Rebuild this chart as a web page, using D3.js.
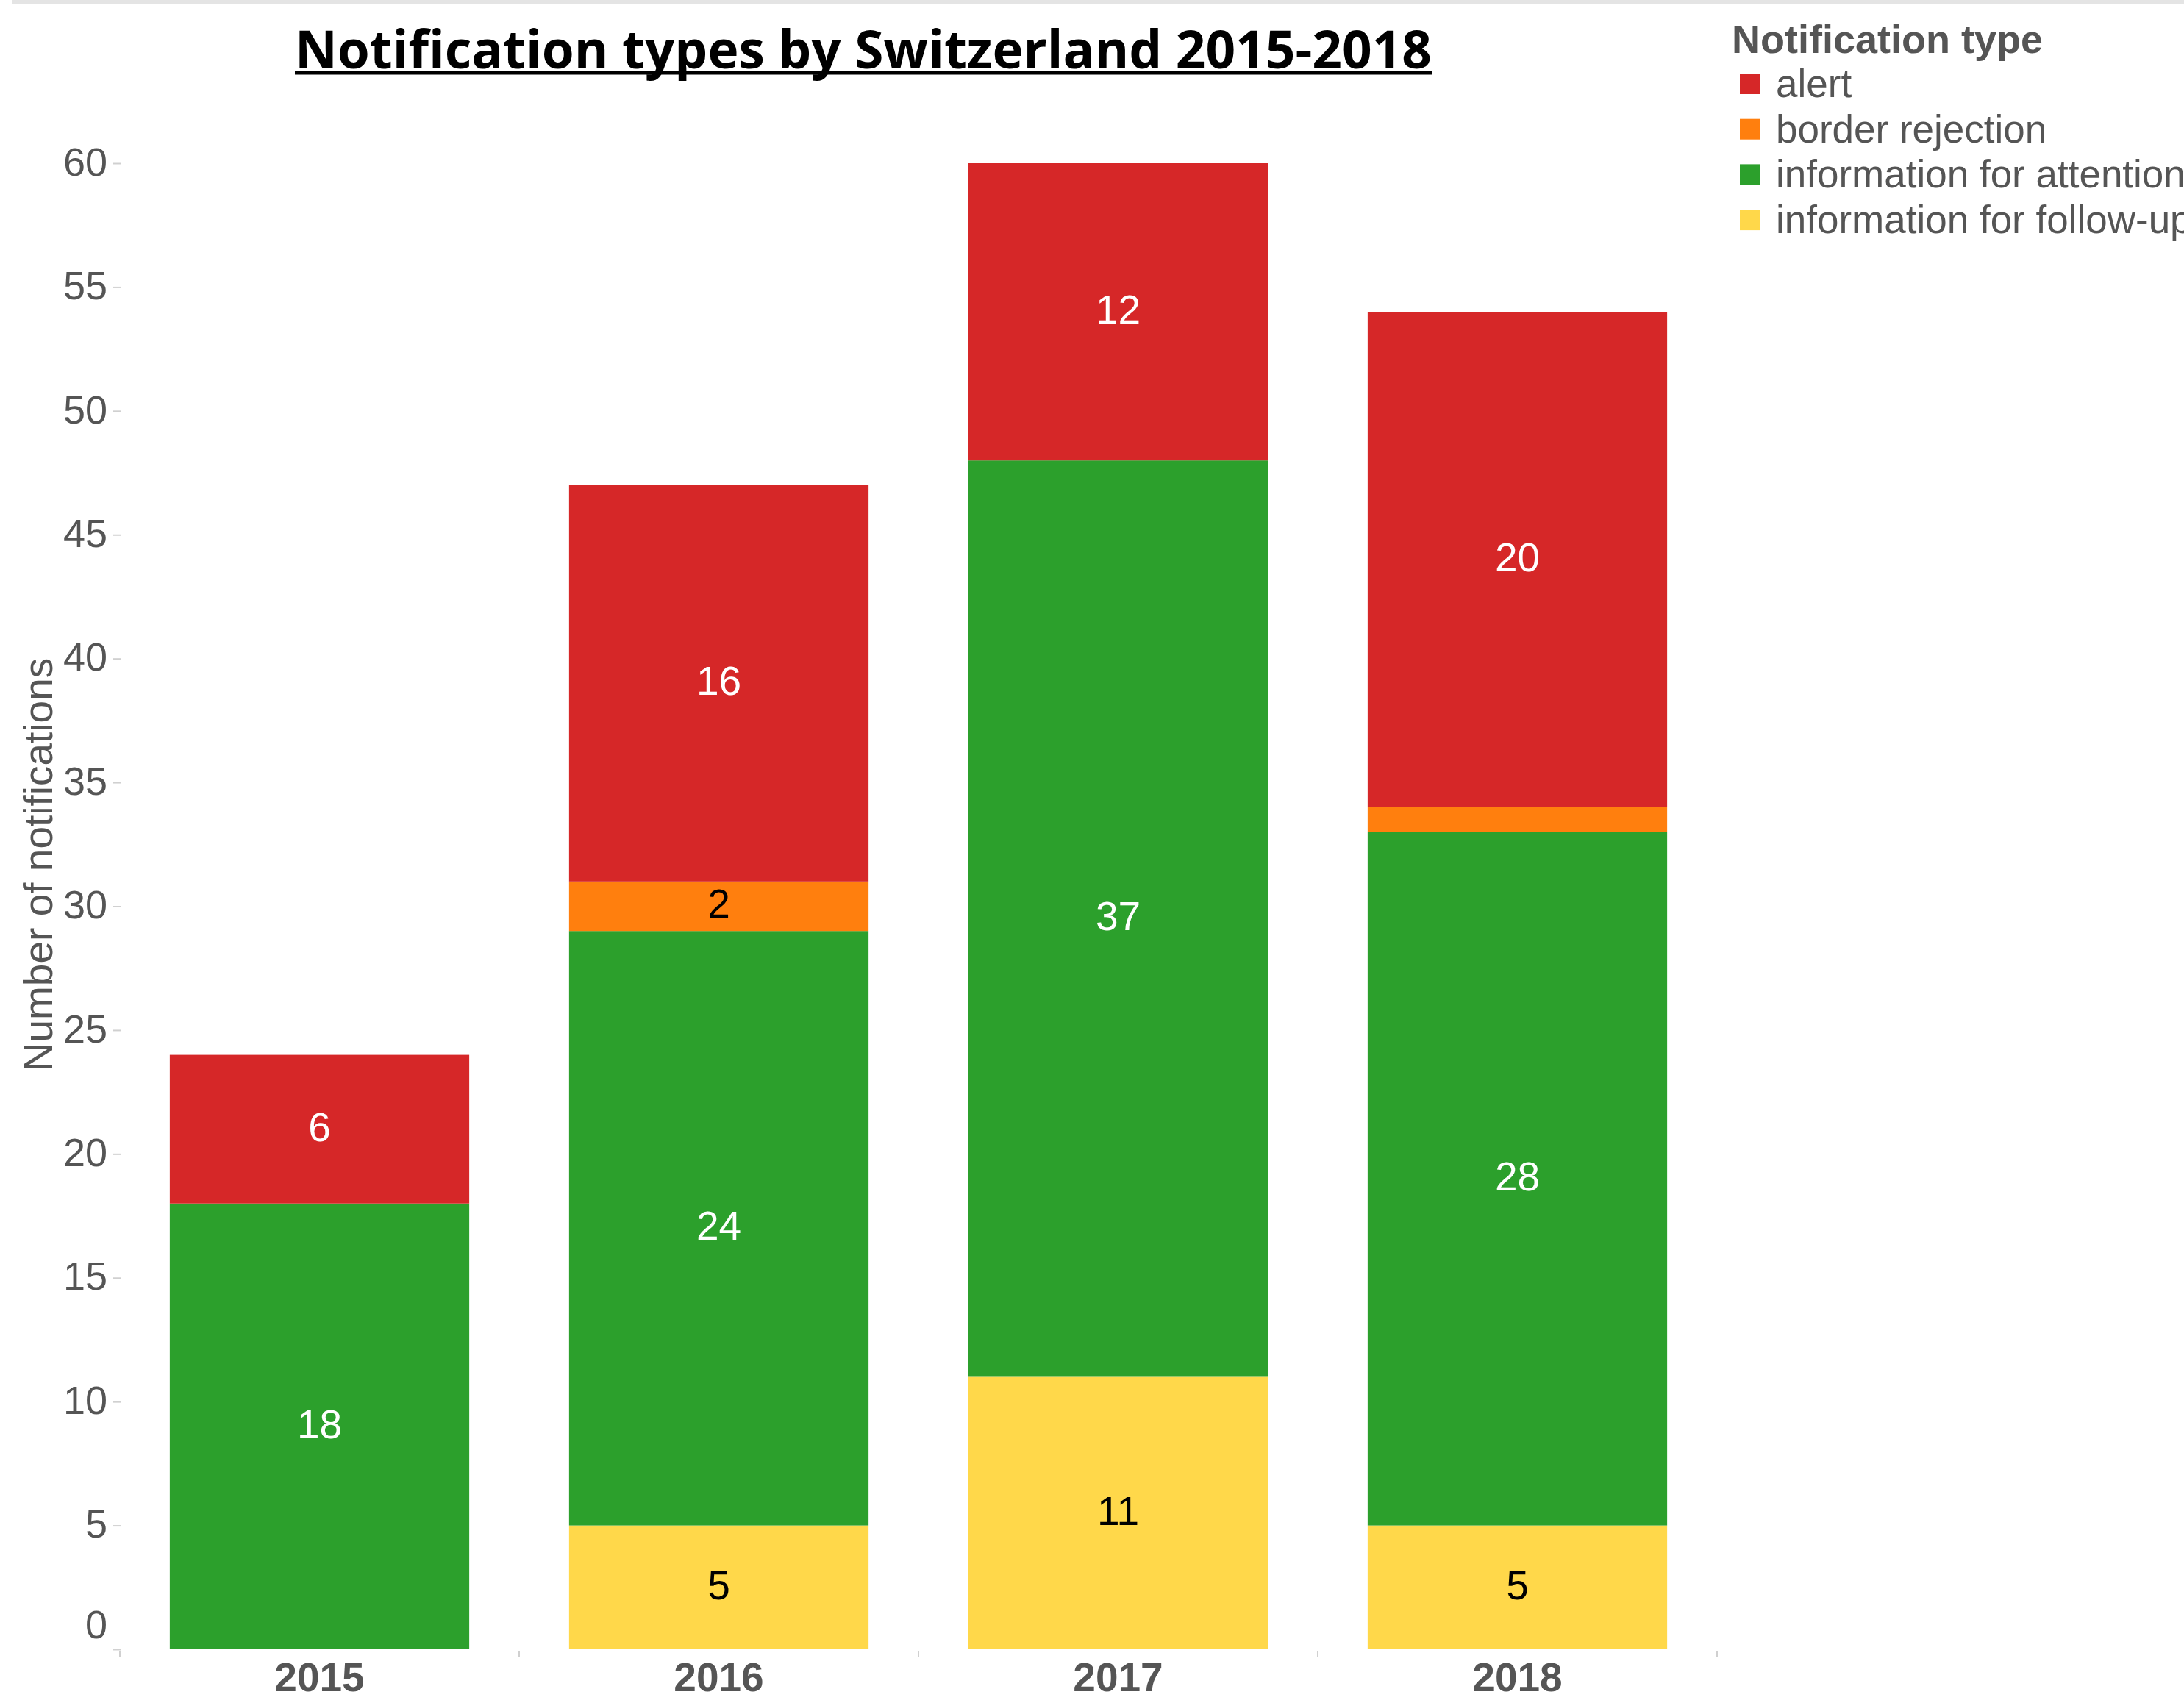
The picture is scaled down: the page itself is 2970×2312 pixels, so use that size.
<!DOCTYPE html>
<html>
<head>
<meta charset="utf-8">
<script src="https://cdn.jsdelivr.net/npm/d3@7"></script>
<style>
  body { margin: 0; background: #fff; }
  svg { display: block; }
</style>
</head>
<body>
<div id="chart"></div>
<script>
// values
let years = ['2015', '2016', '2017', '2018'];
let alert = [6, 16, 12, 20];
let borderRejection = [0, 2, 0, 1];
let infoAttention = [18, 24, 37, 28];
let infoFollowUp = [0, 5, 11, 5];
let legendTypes = ['alert', 'border rejection', 'information for attention', 'information for follow-up'];
let yTicks = [0, 5, 10, 15, 20, 25, 30, 35, 40, 45, 50, 55, 60];

let rows = years.map((y, i) => ({
    year: y,
    'alert': alert[i],
    'border rejection': borderRejection[i],
    'information for attention': infoAttention[i],
    'information for follow-up': infoFollowUp[i]
}));

let width = 2970;
let height = 2312;
let font = "'Liberation Sans', Arial, sans-serif";

let color = d3.scaleOrdinal()
    .domain(legendTypes)
    .range(['#d62728', '#ff7f0e', '#2ca02c', '#ffd84a']);

let labelColor = {
    'alert': '#ffffff',
    'border rejection': '#000000',
    'information for attention': '#ffffff',
    'information for follow-up': '#000000'
};

let x = d3.scaleBand()
    .domain(years)
    .range([163, 2335])
    .paddingInner(0.25)
    .paddingOuter(0.125);

let y = d3.scaleLinear()
    .domain([0, 60])
    .range([2243, 222]);

let stackKeys = ['information for follow-up', 'information for attention', 'border rejection', 'alert'];
let series = d3.stack().keys(stackKeys)(rows);

let svg = d3.select('#chart').append('svg')
    .attr('width', width)
    .attr('height', height);

// faint strip along the top edge
svg.append('rect')
    .attr('x', 16).attr('y', 0)
    .attr('width', width - 16).attr('height', 5)
    .attr('fill', '#e4e4e4');

// title
let title = svg.append('text')
    .attr('x', 1174)
    .attr('y', 93)
    .attr('text-anchor', 'middle')
    .attr('font-family', "'Open Sans', sans-serif")
    .attr('font-weight', 700)
    .attr('font-size', 72)
    .attr('fill', '#000')
    .text('Notification types by Switzerland 2015-2018');

let tw = title.node().getComputedTextLength();
if (Math.abs(tw - 1546) > 4) {
    title.attr('textLength', 1546).attr('lengthAdjust', 'spacingAndGlyphs');
}
svg.append('line')
    .attr('x1', 1174 - 773).attr('x2', 1174 + 773)
    .attr('y1', 99).attr('y2', 99)
    .attr('stroke', '#000')
    .attr('stroke-width', 5);

// y axis
let yAxis = svg.append('g')
    .attr('transform', 'translate(164,0)')
    .call(d3.axisLeft(y).tickValues(yTicks).tickSize(10).tickPadding(8));

yAxis.select('.domain').remove();
yAxis.selectAll('.tick line').attr('stroke', '#d0d0d0').attr('stroke-width', 2);
yAxis.selectAll('.tick text')
    .attr('font-family', font)
    .attr('font-size', 54)
    .attr('fill', '#555')
    .attr('dy', d => d === 0 ? '-0.28em' : '0.3em');

svg.append('text')
    .attr('transform', 'translate(71,1176) rotate(-90)')
    .attr('text-anchor', 'middle')
    .attr('font-family', font)
    .attr('font-size', 55)
    .attr('fill', '#555')
    .text('Number of notifications');

// bars
let layers = svg.append('g').selectAll('g')
    .data(series)
    .join('g')
    .attr('fill', d => color(d.key));

layers.selectAll('rect')
    .data(d => d)
    .join('rect')
    .attr('x', d => x(d.data.year))
    .attr('width', x.bandwidth())
    .attr('y', d => y(d[1]))
    .attr('height', d => y(d[0]) - y(d[1]));

// segment labels
series.forEach(s => {
    svg.append('g').selectAll('text')
        .data(s.filter(d => d[1] - d[0] >= 2))
        .join('text')
        .attr('x', d => x(d.data.year) + x.bandwidth() / 2)
        .attr('y', d => y((d[0] + d[1]) / 2))
        .attr('dy', '0.29em')
        .attr('text-anchor', 'middle')
        .attr('font-family', font)
        .attr('font-size', 55)
        .attr('fill', labelColor[s.key])
        .text(d => d[1] - d[0]);
});

// x axis
let xAxis = svg.append('g')
    .attr('transform', 'translate(0,2244)')
    .call(d3.axisBottom(x).tickSize(0).tickPadding(17));

xAxis.select('.domain').remove();
xAxis.selectAll('.tick text')
    .attr('font-family', font)
    .attr('font-size', 55)
    .attr('font-weight', 700)
    .attr('fill', '#555');

let gap = x.step() * x.paddingInner() / 2;
let bounds = years.map(d => x(d) - gap).concat([x(years[years.length - 1]) + x.bandwidth() + gap]);
svg.append('g').selectAll('line')
    .data(bounds)
    .join('line')
    .attr('x1', d => d).attr('x2', d => d)
    .attr('y1', 2246).attr('y2', 2254)
    .attr('stroke', '#d0d0d0')
    .attr('stroke-width', 2);

// legend
let legend = svg.append('g');

legend.append('text')
    .attr('x', 2355)
    .attr('y', 72)
    .attr('font-family', font)
    .attr('font-weight', 700)
    .attr('font-size', 54)
    .attr('fill', '#555')
    .text('Notification type');

let items = legend.selectAll('g.item')
    .data(legendTypes)
    .join('g')
    .attr('class', 'item')
    .attr('transform', (d, i) => 'translate(0,' + (132 + i * 61.7) + ')');

items.append('rect')
    .attr('x', 2366)
    .attr('y', -32)
    .attr('width', 28)
    .attr('height', 28)
    .attr('fill', d => color(d));

items.append('text')
    .attr('x', 2415)
    .attr('y', 0)
    .attr('font-family', font)
    .attr('font-size', 53)
    .attr('fill', '#555')
    .text(d => d);
</script>
</body>
</html>
